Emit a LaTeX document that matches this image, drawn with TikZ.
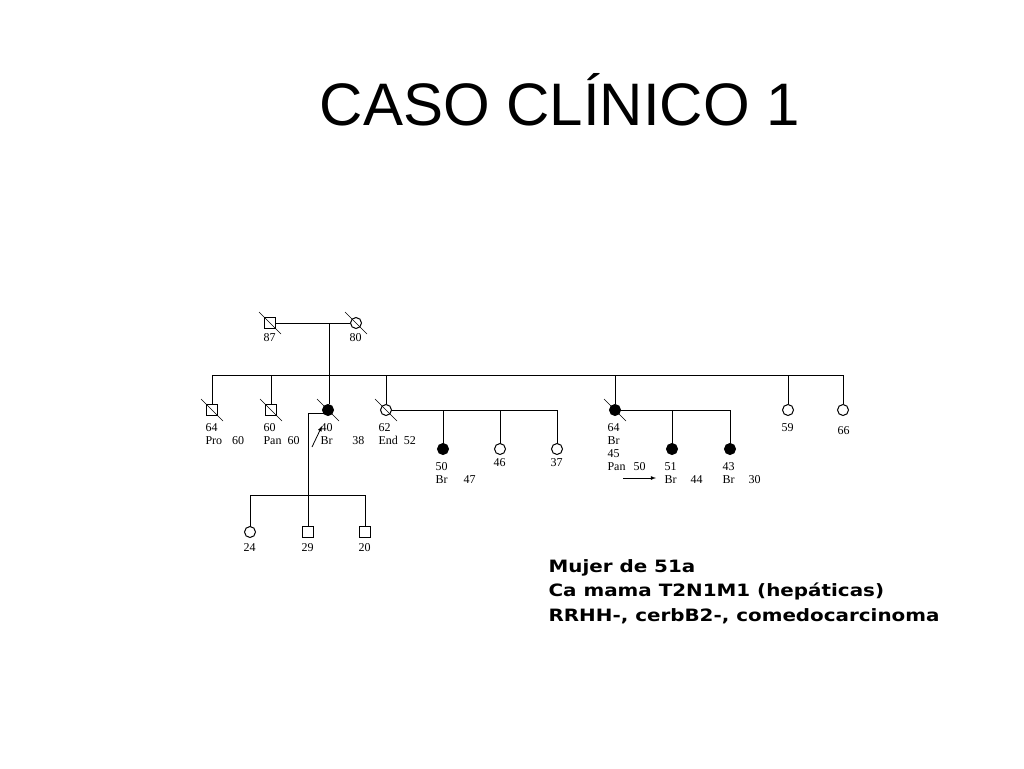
\documentclass[tikz,border=0pt]{standalone}
\usepackage{fontspec}
\setmainfont{Liberation Serif}
\newfontfamily\titlefont{Liberation Sans}
\newfontfamily\boldfont{DejaVu Sans}
\begin{document}
\begin{tikzpicture}[x=1pt,y=-1pt,line width=1pt,
  male/.style={draw,fill=white,minimum size=11pt,inner sep=0pt,rectangle},
  fem/.style={draw,fill=white,circle,minimum size=11pt,inner sep=0pt},
  aff/.style={fill=black},
  lab/.style={font=\fontsize{12}{13}\selectfont,inner sep=0pt,anchor=north west},
  dec/.style={line width=0.6pt}]
\useasboundingbox (0,0) rectangle (1024,768);
\node[font=\titlefont\fontsize{60}{62}\selectfont] (title) at (560,100) {CASO CLÍNICO 1};
% lines
\draw (276,323) -- (350,323);
\draw (329,323) -- (329,375);
\draw (212,375) -- (843,375);
\foreach \x in {212,271,329,386,615,788,843} \draw (\x,375) -- (\x,404);
\draw (386,410) -- (557,410);
\foreach \x in {443,500,557} \draw (\x,410) -- (\x,444);
\draw (615,410) -- (730,410);
\foreach \x in {672,730} \draw (\x,410) -- (\x,444);
\draw (328,413) -- (308,413) -- (308,495);
\draw (250,495) -- (365,495);
\foreach \x in {250,308,365} \draw (\x,495) -- (\x,527);
% gen I
\node[male] (g1) at (270,323) {};
\node[fem] (g2) at (356,323) {};
% gen II
\node[male] (a1) at (212,410) {};
\node[male] (a2) at (271,410) {};
\node[fem,aff] (a3) at (328,410) {};
\node[fem] (a4) at (386,410) {};
\node[fem,aff] (a5) at (615,410) {};
\node[fem] (a6) at (788,410) {};
\node[fem] (a7) at (843,410) {};
% gen III
\node[fem,aff] (b1) at (443,449) {};
\node[fem] (b2) at (500,449) {};
\node[fem] (b3) at (557,449) {};
\node[fem,aff] (b4) at (672,449) {};
\node[fem,aff] (b5) at (730,449) {};
\node[fem] (c1) at (250,532) {};
\node[male] (c2) at (308,532) {};
\node[male] (c3) at (365,532) {};
% deceased slashes
\foreach \n in {g1,g2,a1,a2,a3,a4,a5} \draw[dec] ([shift={(-11,-11)}]\n.center) -- ([shift={(11,11)}]\n.center);
% labels
\node[lab] (l1) at (263,333) {87};
\node[lab] (l2) at (349,333) {80};
\node[lab,align=left] (l3) at (205,423) {64\\Pro\hspace{10pt}60};
\node[lab,align=left] (l4) at (263,423) {60\\Pan\hspace{6pt}60};
\node[lab,align=left] (l5) at (320,423) {40\\Br\hspace{20pt}38};
\node[lab,align=left] (l6) at (378,423) {62\\End\hspace{6pt}52};
\node[lab,align=left,text width=40pt] (l7) at (607,423) {64\\Br\hspace{18pt}45\\Pan\hspace{8pt}50};
\node[lab] (l8) at (781,423) {59};
\node[lab] (l9) at (837,426) {66};
\node[lab,align=left] (m1) at (435,462) {50\\Br\hspace{16pt}47};
\node[lab] (m2) at (493,458) {46};
\node[lab] (m3) at (550,458) {37};
\node[lab,align=left] (m4) at (664,462) {51\\Br\hspace{14pt}44};
\node[lab,align=left] (m5) at (722,462) {43\\Br\hspace{14pt}30};
\node[lab] (n1) at (243,543) {24};
\node[lab] (n2) at (301,543) {29};
\node[lab] (n3) at (358,543) {20};
% proband arrows
\coordinate (p1) at (312,447); \coordinate (p2) at (322,426);
\draw[-latex,line width=0.8pt] (p1) -- (p2);
\coordinate (q1) at (623,478); \coordinate (q2) at (656,478);
\draw[-latex,line width=0.8pt] (q1) -- (q2);
\node[font=\boldfont\bfseries\fontsize{17}{24.5}\selectfont,align=left,anchor=north west,inner sep=0pt,xscale=1.17] (txt) at (548,559)
 {Mujer de 51a\\Ca mama T2N1M1 (hepáticas)\\RRHH-, cerbB2-, comedocarcinoma};
\end{tikzpicture}
\end{document}
